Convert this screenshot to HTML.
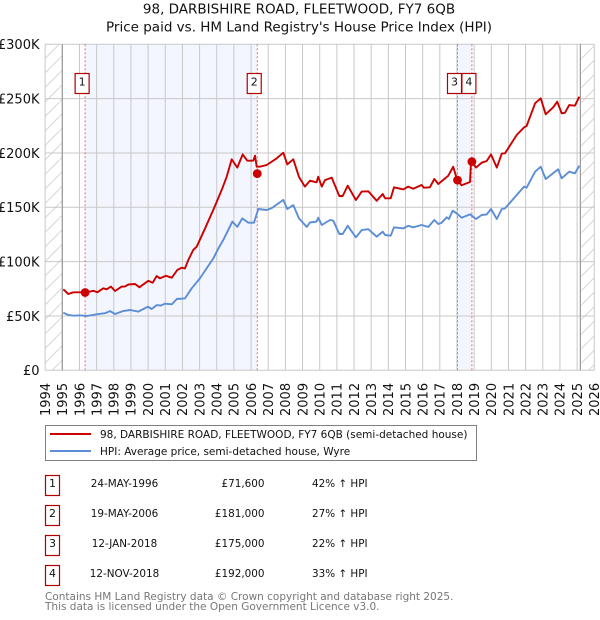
<!DOCTYPE html>
<html><head><meta charset="utf-8">
<style>
html,body{margin:0;padding:0;background:#fff;width:600px;height:620px;overflow:hidden}
svg{display:block;font-family:"DejaVu Sans","Liberation Sans",sans-serif;fill:#111}
</style></head>
<body>
<svg id="chart" width="600" height="620" viewBox="0 0 600 620" xmlns="http://www.w3.org/2000/svg">
<defs>
<pattern id="hatch" patternUnits="userSpaceOnUse" width="14.5" height="14.5" patternTransform="translate(45 44)">
<path d="M-1 15.5 L15.5 -1" stroke="#d6d6d6" stroke-width="1"/>
</pattern>
</defs>
<text x="299" y="13.5" text-anchor="middle" font-size="13.5">98, DARBISHIRE ROAD, FLEETWOOD, FY7 6QB</text>
<text x="299" y="31.5" text-anchor="middle" font-size="13.5">Price paid vs. HM Land Registry's House Price Index (HPI)</text>
<g id="plot"></g>
<g>
<rect x="45.5" y="425.5" width="431" height="35" fill="#fff" stroke="#808080" stroke-width="1"/>
<line x1="50" x2="91" y1="434" y2="434" stroke="#cc0000" stroke-width="2"/>
<text x="100" y="438" font-size="10.5">98, DARBISHIRE ROAD, FLEETWOOD, FY7 6QB (semi-detached house)</text>
<line x1="50" x2="91" y1="451" y2="451" stroke="#5b8ed6" stroke-width="2"/>
<text x="100" y="455" font-size="10.5">HPI: Average price, semi-detached house, Wyre</text>
</g>
<g id="table"></g>
<text x="45" y="600" font-size="10.5" fill="#777">Contains HM Land Registry data © Crown copyright and database right 2025.</text>
<text x="45" y="610" font-size="10.5" fill="#777">This data is licensed under the Open Government Licence v3.0.</text>
</svg>
<script>
var yearTicks = [1994,1995,1996,1997,1998,1999,2000,2001,2002,2003,2004,2005,2006,2007,2008,2009,2010,2011,2012,2013,2014,2015,2016,2017,2018,2019,2020,2021,2022,2023,2024,2025,2026];
var valueTicks = [0,50,100,150,200,250,300];
var valueTickLabels = ["£0","£50K","£100K","£150K","£200K","£250K","£300K"];
var hpiDates = [1995.06,1995.33,1995.68,1996.03,1996.42,1997.0,1997.49,1997.78,1998.07,1998.54,1998.95,1999.43,1999.99,2000.21,2000.5,2000.73,2000.98,2001.38,2001.67,2002.15,2002.54,2003.02,2003.41,2003.8,2004.09,2004.38,2004.91,2005.2,2005.49,2005.84,2006.17,2006.42,2006.91,2007.2,2007.88,2008.11,2008.46,2008.79,2009.24,2009.43,2009.82,2009.91,2010.12,2010.6,2010.79,2011.14,2011.34,2011.63,2012.11,2012.45,2012.83,2013.32,2013.67,2013.81,2014.14,2014.33,2014.87,2015.16,2015.45,2015.94,2016.33,2016.68,2016.91,2017.11,2017.4,2017.53,2017.75,2017.98,2018.27,2018.76,2019.11,2019.44,2019.73,2019.98,2020.32,2020.61,2020.8,2021.48,2021.91,2022.06,2022.55,2022.88,2023.17,2023.9,2024.1,2024.54,2024.87,2025.13];
var hpiValues = [53,51,50.2,50.6,50,51.5,52.5,54.5,51.8,54.5,55.5,54,58.5,56.4,60,59.5,61.3,60.7,65.6,66.2,75.5,84.6,93.8,103,112,120,136.8,132,139.8,135.8,135.8,148.4,147.5,149.3,156.8,148.4,152,140,132,136,136.8,140.4,133.7,138.3,137.7,125.4,125.4,133,122.4,129,129.8,123,127.5,124.5,123.9,131.6,130.6,133,131.6,133.7,132,138.3,134.6,135.8,140.8,139.2,146.9,144.5,140.4,143.5,139.2,142.9,143.5,148.4,139.2,148.4,149,161.3,169,168,182.8,187.4,176,185,176.7,182.8,181.3,188.3];
var priceDates = [1995.06,1995.35,1995.64,1996.03,1996.36,1996.81,1997.04,1997.39,1997.59,1997.84,1998.07,1998.46,1998.65,1998.85,1999.24,1999.49,2000.01,2000.27,2000.5,2000.69,2001.04,2001.38,2001.7,2001.96,2002.15,2002.34,2002.63,2002.83,2003.32,2003.71,2004.0,2004.29,2004.58,2004.87,2005.2,2005.51,2005.78,2006.13,2006.23,2006.33,2006.52,2006.91,2007.49,2007.88,2008.11,2008.46,2008.79,2009.14,2009.43,2009.82,2009.91,2010.12,2010.31,2010.7,2011.14,2011.34,2011.63,2012.11,2012.45,2012.83,2013.32,2013.67,2013.81,2014.14,2014.33,2014.87,2015.16,2015.45,2015.94,2016.07,2016.42,2016.68,2016.91,2017.49,2017.78,2018.01,2018.27,2018.76,2018.82,2019.11,2019.44,2019.73,2019.98,2020.32,2020.61,2020.8,2021.48,2021.91,2022.06,2022.55,2022.88,2023.17,2023.61,2023.84,2024.1,2024.29,2024.54,2024.87,2025.13];
var priceValues = [74.5,70.2,71.8,71.8,71.6,73.2,71.8,75.5,74.5,77,73,77,77,79,79.4,76.4,82.4,80.6,86.8,84.6,87,85.2,92.3,94.4,93.8,101.5,110.7,113.7,130.7,144.5,155,166,178.2,194.2,186.5,198.7,192.9,192.9,197.5,187.4,187.4,188.9,195,200.2,189.5,194.2,178.2,169,174.5,173,178.2,169,175,177.3,160.4,160.4,169.9,156.7,164.4,164.7,156,162.2,158.3,158.3,168.4,166.5,169,167.1,170.5,168,168.4,176,171.4,179,187.4,175,170.2,173.3,193.5,186.5,191,192.6,198.7,186.5,199.4,199.7,216.5,223.6,224.8,245.7,250.3,235.6,242,247.2,236.5,237,244,243.5,251.8];
var saleLabels = ["1","2","3","4"];
var saleDates = [1996.33,2006.36,2018.03,2018.87];
var saleValues = [71.6,181,175,192];
var saleDateLabels = ["24-MAY-1996","19-MAY-2006","12-JAN-2018","12-NOV-2018"];
var salePriceLabels = ["£71,600","£181,000","£175,000","£192,000"];
var saleHpiLabels = ["42% ↑ HPI","27% ↑ HPI","22% ↑ HPI","33% ↑ HPI"];
var dataStart = 1995;
var dataEnd = 2025.19;

var NS = "http://www.w3.org/2000/svg";
function xScale(year){ return 62.3 + (year - 1995) * 17.16; }
function yScale(v){ return 370.3 - v * 1.0867; }
function make(parent, tag, attrs){
  var el = document.createElementNS(NS, tag);
  for (var k in attrs) el.setAttribute(k, attrs[k]);
  parent.appendChild(el);
  return el;
}
var plot = document.getElementById("plot");
var table = document.getElementById("table");
var L = xScale(1994), R = xScale(2026), T = yScale(300), B = yScale(0);

// shaded spans between sales
for (var s = 0; s < saleDates.length; s += 2) {
  var span = make(plot, "rect", {x: xScale(saleDates[s]), y: T, width: xScale(saleDates[s+1]) - xScale(saleDates[s]), height: B - T, fill: "#f3f6fe"});
  
  
}
// hatched out-of-range zones
var hatchL = make(plot, "rect", {x: L, y: T, width: xScale(dataStart) - L, height: B - T, fill: "url(#hatch)"});


var hatchR = make(plot, "rect", {x: xScale(dataEnd), y: T, width: R - xScale(dataEnd), height: B - T, fill: "url(#hatch)"});



// grid + ticks
yearTicks.forEach(function(y){
  var g = make(plot, "line", {x1: xScale(y), x2: xScale(y), y1: T, y2: B, stroke: "#c8c8c8", "stroke-width": 1});
  
  
  var t = make(plot, "text", {transform: "translate(" + (xScale(y) + 4.8) + ",416) rotate(-90)", "font-size": 13});
  
  
  t.textContent = y;
});
valueTicks.forEach(function(v, i){
  var g = make(plot, "line", {x1: L, x2: R, y1: yScale(v), y2: yScale(v), stroke: "#c8c8c8", "stroke-width": 1});
  
  
  var t = make(plot, "text", {x: 39.5, y: yScale(v) + 4.8, "text-anchor": "end", "font-size": 13});
  
  
  t.textContent = valueTickLabels[i];
});
// data range edges
[dataStart, dataEnd].forEach(function(y){
  var e = make(plot, "line", {x1: xScale(y), x2: xScale(y), y1: T, y2: B, stroke: "#999", "stroke-width": 1.2});
  
  
});
// sale lines
saleDates.forEach(function(d){
  var l = make(plot, "line", {x1: xScale(d), x2: xScale(d), y1: T, y2: B, stroke: "#e0707c", "stroke-width": 1, "stroke-dasharray": "2 2"});
  
  
});
function pathFrom(xs, ys){
  return xs.map(function(d, i){ return xScale(d).toFixed(1) + "," + yScale(ys[i]).toFixed(1); }).join(" ");
}
var hpiLine = make(plot, "polyline", {points: pathFrom(hpiDates, hpiValues), fill: "none", stroke: "#5b8ed6", "stroke-width": 1.9, "stroke-linejoin": "round"});


var priceLine = make(plot, "polyline", {points: pathFrom(priceDates, priceValues), fill: "none", stroke: "#cc0000", "stroke-width": 1.9, "stroke-linejoin": "round"});



saleDates.forEach(function(d, i){
  var m = make(plot, "circle", {cx: xScale(d), cy: yScale(saleValues[i]), r: 4.4, fill: "#cc0000"});
  
  
  var cx = xScale(d) - 3;
  var b = make(plot, "rect", {x: cx - 7, y: 73.5, width: 14, height: 20, fill: "#fff", stroke: "#b00000", "stroke-width": 1.2});
  
  
  var t = make(plot, "text", {x: cx, y: 85.5, "text-anchor": "middle", "font-size": 11});
  
  
  t.textContent = saleLabels[i];

  var top = 475.5 + i * 30;
  var tb = make(table, "rect", {x: 45.5, y: top, width: 14, height: 20, fill: "#fff", stroke: "#b00000", "stroke-width": 1.2});
  
  
  var tn = make(table, "text", {x: 52.5, y: top + 11.5, "text-anchor": "middle", "font-size": 11});
  
  
  tn.textContent = saleLabels[i];
  var td = make(table, "text", {x: 124.5, y: top + 11.5, "text-anchor": "middle", "font-size": 10.4});
  
  
  td.textContent = saleDateLabels[i];
  var tp = make(table, "text", {x: 264.5, y: top + 11.5, "text-anchor": "end", "font-size": 10.4});
  
  
  tp.textContent = salePriceLabels[i];
  var th = make(table, "text", {x: 312, y: top + 11.5, "font-size": 10.4});
  
  
  th.textContent = saleHpiLabels[i];
});
</script>
</body></html>
